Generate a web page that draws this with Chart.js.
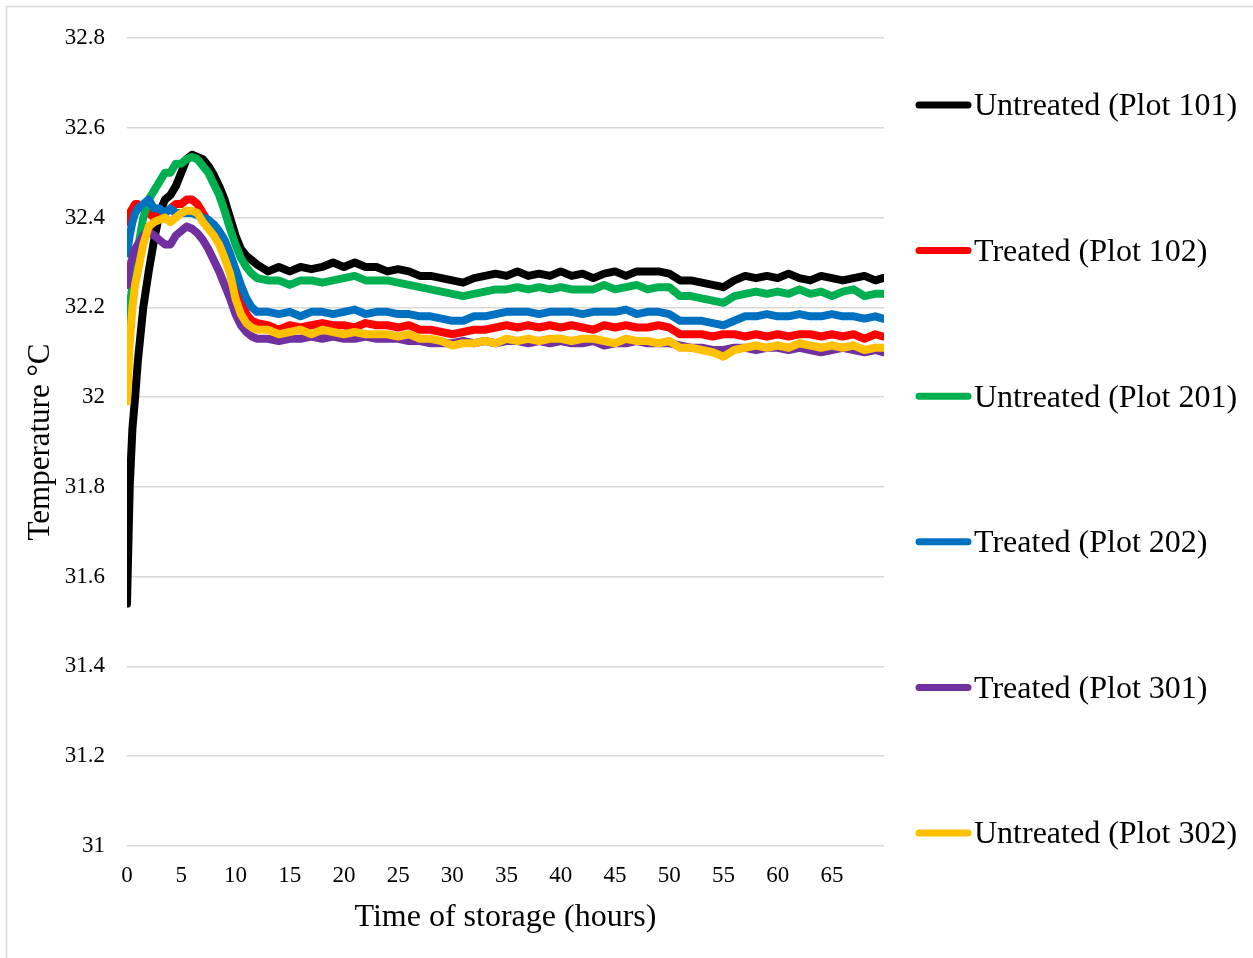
<!DOCTYPE html>
<html>
<head>
<meta charset="utf-8">
<script src="https://cdn.jsdelivr.net/npm/chart.js@4.4.1/dist/chart.umd.min.js"></script>
<style>
  html, body { margin: 0; padding: 0; background: #fff; }
  #wrap { position: relative; width: 1253px; height: 958px; }
</style>
</head>
<body>
<div id="wrap"><canvas id="tempChart" width="1253" height="958"></canvas></div>
<script>
// ── DATA ────────────────────────────────────────────────────
const hours = [
  0, 0.25, 0.5, 0.75, 1, 1.5, 2, 2.5, 3, 3.5, 4, 4.5, 5, 5.5, 6, 6.5, 7, 7.5, 8, 8.5, 9, 9.5, 10, 10.5, 11, 11.5, 12,
  13, 14, 15, 16, 17, 18, 19, 20, 21, 22, 23, 24, 25, 26, 27, 28, 29, 30, 31, 32, 33, 34, 35, 36, 37, 38, 39,
  40, 41, 42, 43, 44, 45, 46, 47, 48, 49, 50, 51, 52, 53, 54, 55, 56, 57, 58, 59, 60, 61, 62, 63, 64, 65, 66, 67, 68, 69, 69.7
]

const plot101 = [
  31.54, 31.80, 31.93, 32.00, 32.08, 32.20, 32.28, 32.35, 32.41, 32.44, 32.45, 32.47, 32.50, 32.53, 32.54, 32.535, 32.53, 32.515, 32.495, 32.47, 32.44, 32.40, 32.36, 32.33, 32.315, 32.305, 32.295,
  32.28, 32.29, 32.28, 32.29, 32.285, 32.29, 32.30, 32.29, 32.30, 32.29, 32.29, 32.28, 32.285, 32.28, 32.27, 32.27, 32.265, 32.26, 32.255, 32.265, 32.27, 32.275, 32.27, 32.28, 32.27, 32.275, 32.27,
  32.28, 32.27, 32.275, 32.265, 32.275, 32.28, 32.27, 32.28, 32.28, 32.28, 32.275, 32.26, 32.26, 32.255, 32.25, 32.245, 32.26, 32.27, 32.265, 32.27, 32.265, 32.275, 32.265, 32.26, 32.27, 32.265, 32.26, 32.265, 32.27, 32.26, 32.265
]
const plot102 = [
  32.39, 32.41, 32.42, 32.43, 32.43, 32.42, 32.41, 32.40, 32.41, 32.41, 32.42, 32.43, 32.43, 32.44, 32.44, 32.43, 32.41, 32.39, 32.37, 32.35, 32.32, 32.29, 32.25, 32.21, 32.185, 32.17, 32.165,
  32.16, 32.15, 32.16, 32.155, 32.16, 32.165, 32.16, 32.16, 32.155, 32.165, 32.16, 32.16, 32.155, 32.16, 32.15, 32.15, 32.145, 32.14, 32.145, 32.15, 32.15, 32.155, 32.16, 32.155, 32.16, 32.155, 32.16,
  32.155, 32.16, 32.155, 32.15, 32.16, 32.155, 32.16, 32.155, 32.155, 32.16, 32.155, 32.14, 32.14, 32.14, 32.135, 32.14, 32.14, 32.135, 32.14, 32.135, 32.14, 32.135, 32.14, 32.14, 32.135, 32.14, 32.135, 32.14, 32.13, 32.14, 32.135
]
const plot201 = [
  32.12, 32.20, 32.25, 32.29, 32.33, 32.40, 32.44, 32.46, 32.48, 32.50, 32.50, 32.52, 32.52, 32.53, 32.535, 32.53, 32.515, 32.50, 32.475, 32.45, 32.415, 32.375, 32.34, 32.31, 32.29, 32.275, 32.265,
  32.26, 32.26, 32.25, 32.26, 32.26, 32.255, 32.26, 32.265, 32.27, 32.26, 32.26, 32.26, 32.255, 32.25, 32.245, 32.24, 32.235, 32.23, 32.225, 32.23, 32.235, 32.24, 32.24, 32.245, 32.24, 32.245, 32.24,
  32.245, 32.24, 32.24, 32.24, 32.25, 32.24, 32.245, 32.25, 32.24, 32.245, 32.245, 32.225, 32.225, 32.22, 32.215, 32.21, 32.225, 32.23, 32.235, 32.23, 32.235, 32.23, 32.24, 32.23, 32.235, 32.225, 32.235, 32.24, 32.225, 32.23, 32.23
]
const plot202 = [
  32.32, 32.36, 32.39, 32.41, 32.42, 32.43, 32.44, 32.42, 32.42, 32.41, 32.42, 32.41, 32.41, 32.41, 32.41, 32.405, 32.40, 32.395, 32.385, 32.37, 32.35, 32.32, 32.285, 32.25, 32.22, 32.20, 32.19,
  32.19, 32.185, 32.19, 32.18, 32.19, 32.19, 32.185, 32.19, 32.195, 32.185, 32.19, 32.19, 32.185, 32.185, 32.18, 32.18, 32.175, 32.17, 32.17, 32.18, 32.18, 32.185, 32.19, 32.19, 32.19, 32.185, 32.19,
  32.19, 32.19, 32.185, 32.19, 32.19, 32.19, 32.195, 32.185, 32.19, 32.19, 32.185, 32.17, 32.17, 32.17, 32.165, 32.16, 32.17, 32.18, 32.18, 32.185, 32.18, 32.18, 32.185, 32.18, 32.18, 32.185, 32.18, 32.18, 32.175, 32.18, 32.175
]
const plot301 = [
  32.25, 32.29, 32.31, 32.33, 32.34, 32.36, 32.37, 32.36, 32.35, 32.34, 32.34, 32.36, 32.37, 32.38, 32.375, 32.365, 32.35, 32.33, 32.305, 32.28, 32.25, 32.22, 32.185, 32.16, 32.145, 32.135, 32.13,
  32.13, 32.125, 32.13, 32.13, 32.135, 32.13, 32.135, 32.13, 32.13, 32.135, 32.13, 32.13, 32.13, 32.125, 32.125, 32.12, 32.12, 32.12, 32.125, 32.12, 32.125, 32.12, 32.125, 32.125, 32.12, 32.125, 32.12,
  32.125, 32.12, 32.12, 32.125, 32.115, 32.12, 32.12, 32.125, 32.12, 32.12, 32.12, 32.115, 32.11, 32.11, 32.105, 32.105, 32.11, 32.11, 32.105, 32.11, 32.11, 32.105, 32.11, 32.105, 32.10, 32.105, 32.11, 32.105, 32.10, 32.105, 32.10
]
const plot302 = [
  31.99, 32.12, 32.20, 32.25, 32.28, 32.34, 32.38, 32.39, 32.395, 32.40, 32.39, 32.40, 32.41, 32.415, 32.415, 32.41, 32.39, 32.375, 32.36, 32.34, 32.31, 32.275, 32.22, 32.185, 32.165, 32.155, 32.15,
  32.15, 32.14, 32.145, 32.15, 32.14, 32.15, 32.145, 32.14, 32.145, 32.14, 32.14, 32.14, 32.135, 32.14, 32.13, 32.13, 32.125, 32.115, 32.12, 32.12, 32.125, 32.12, 32.13, 32.125, 32.13, 32.125, 32.13,
  32.13, 32.125, 32.13, 32.13, 32.125, 32.12, 32.13, 32.125, 32.125, 32.12, 32.125, 32.11, 32.11, 32.105, 32.10, 32.09, 32.105, 32.11, 32.115, 32.11, 32.115, 32.11, 32.12, 32.115, 32.11, 32.115, 32.11, 32.115, 32.105, 32.11, 32.11
]

const seriesLabels = ['Untreated (Plot 101)', 'Treated (Plot 102)', 'Untreated (Plot 201)', 'Treated (Plot 202)', 'Treated (Plot 301)', 'Untreated (Plot 302)']
const seriesValues = [plot101, plot102, plot201, plot202, plot301, plot302]
const seriesColors = ['#000000', '#ff0000', '#00b050', '#0070c0', '#7030a0', '#ffc000']

const xTicks = [0, 5, 10, 15, 20, 25, 30, 35, 40, 45, 50, 55, 60, 65]
const yTicks = [31, 31.2, 31.4, 31.6, 31.8, 32, 32.2, 32.4, 32.6, 32.8]

const SERIF = '"Liberation Serif", "Times New Roman", serif'

// ── PLUGINS ─────────────────────────────────────────────────
const frame = {
  id: 'frame',
  beforeDraw(chart) {
    const c = chart.ctx
    c.save()
    c.fillStyle = '#fff'
    c.fillRect(0, 0, chart.width, chart.height)
    c.strokeStyle = '#d9d9d9'
    c.lineWidth = 1.5
    c.beginPath()
    c.moveTo(6.5, chart.height)
    c.lineTo(6.5, 6.5)
    c.lineTo(chart.width, 6.5)
    c.stroke()
    c.restore()
  }
}

const sideLegend = {
  id: 'sideLegend',
  afterDraw(chart) {
    const c = chart.ctx
    c.save()
    chart.data.datasets.forEach((ds, i) => {
      const y = 105 + i * 145.6
      c.strokeStyle = ds.borderColor
      c.lineWidth = 7
      c.lineCap = 'round'
      c.beginPath()
      c.moveTo(919, y)
      c.lineTo(968, y)
      c.stroke()
      c.fillStyle = '#000'
      c.font = '32px ' + SERIF
      c.textBaseline = 'middle'
      c.textAlign = 'left'
      c.fillText(ds.label, 974, y + 2)
    })
    c.restore()
  }
}

// ── CHART ───────────────────────────────────────────────────
const ctx = document.getElementById('tempChart').getContext('2d')
new Chart(ctx, {
  type: 'line',
  data: {
    datasets: seriesLabels.map((label, i) => ({
      label,
      data: hours.map((h, j) => ({ x: h, y: seriesValues[i][j] })),
      borderColor: seriesColors[i],
      backgroundColor: seriesColors[i],
      borderWidth: 8,
      borderJoinStyle: 'round',
      borderCapStyle: 'round',
      pointRadius: 0,
      tension: 0,
      fill: false,
      order: seriesLabels.length - i
    }))
  },
  options: {
    responsive: false,
    animation: false,
    devicePixelRatio: 1,
    layout: { padding: { left: 0, right: 369, top: 38, bottom: 0 } },
    plugins: {
      legend: { display: false },
      tooltip: { enabled: false }
    },
    scales: {
      x: {
        type: 'linear',
        min: 0,
        max: 69.8,
        afterBuildTicks: s => { s.ticks = xTicks.map(v => ({ value: v })) },
        afterFit: s => { s.height = 112 },
        grid: { display: false },
        border: { display: false },
        ticks: {
          padding: 8,
          maxRotation: 0,
          color: '#000',
          font: { family: SERIF, size: 23 }
        },
        title: {
          display: true,
          text: 'Time of storage (hours)',
          color: '#000',
          font: { family: SERIF, size: 32 },
          padding: { top: 0, bottom: 21 }
        }
      },
      y: {
        min: 31,
        max: 32.8,
        afterBuildTicks: s => { s.ticks = yTicks.map(v => ({ value: v })) },
        afterFit: s => { s.width = 127 },
        grid: { color: '#d9d9d9', lineWidth: 1.5, drawTicks: false },
        border: { display: false },
        ticks: {
          padding: 22,
          color: '#000',
          font: { family: SERIF, size: 23 },
          callback: v => String(Math.round(v * 10) / 10)
        },
        title: {
          display: true,
          text: 'Temperature °C',
          color: '#000',
          font: { family: SERIF, size: 31 },
          padding: { top: 22, bottom: 0 }
        }
      }
    }
  },
  plugins: [frame, sideLegend]
})
</script>
</body>
</html>
